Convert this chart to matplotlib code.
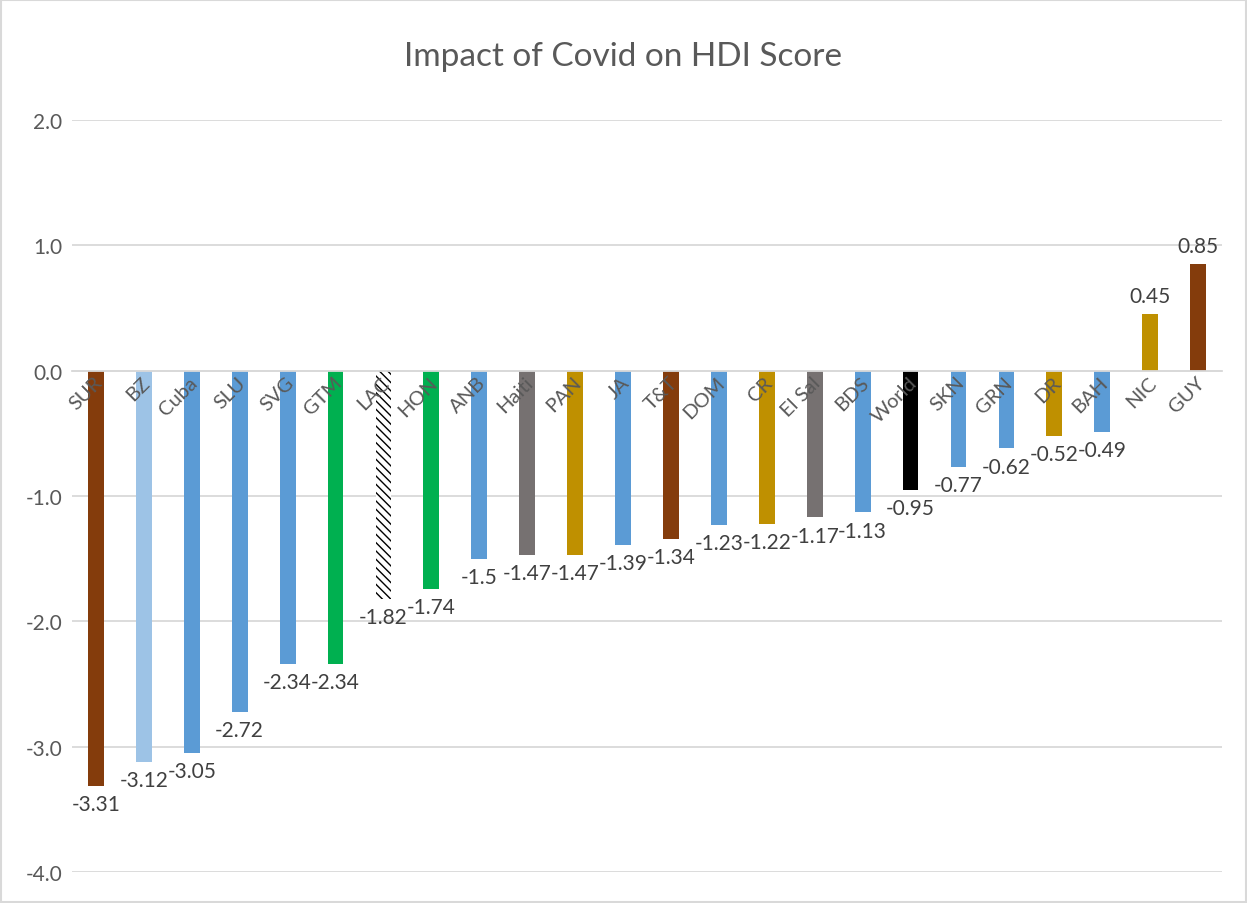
import matplotlib.pyplot as plt
from matplotlib.patches import Rectangle
import numpy as np

plt.rcParams['font.family'] = ['Lato', 'DejaVu Sans']
plt.rcParams['hatch.linewidth'] = 1.0

# datos
paises = ['SUR', 'BZ', 'Cuba', 'SLU', 'SVG', 'GTM', 'LAC', 'HON', 'ANB', 'Haiti',
          'PAN', 'JA', 'T&T', 'DOM', 'CR', 'El Sal', 'BDS', 'World', 'SKN', 'GRN',
          'DR', 'BAH', 'NIC', 'GUY']
valores = [-3.31, -3.12, -3.05, -2.72, -2.34, -2.34, -1.82, -1.74, -1.5, -1.47,
           -1.47, -1.39, -1.34, -1.23, -1.22, -1.17, -1.13, -0.95, -0.77, -0.62,
           -0.52, -0.49, 0.45, 0.85]
colores = ['#843C0C', '#9DC3E6', '#5B9BD5', '#5B9BD5', '#5B9BD5', '#00B050', 'white',
           '#00B050', '#5B9BD5', '#767171', '#BF9000', '#5B9BD5', '#843C0C', '#5B9BD5',
           '#BF9000', '#767171', '#5B9BD5', '#000000', '#5B9BD5', '#5B9BD5', '#BF9000',
           '#5B9BD5', '#BF9000', '#843C0C']
etiquetas = ['-3.31', '-3.12', '-3.05', '-2.72', '-2.34', '-2.34', '-1.82', '-1.74',
             '-1.5', '-1.47', '-1.47', '-1.39', '-1.34', '-1.23', '-1.22', '-1.17',
             '-1.13', '-0.95', '-0.77', '-0.62', '-0.52', '-0.49', '0.45', '0.85']

fig = plt.figure(figsize=(12.47, 9.04), dpi=100)
ax = fig.add_axes([0.0577, 0.0343, 0.9223, 0.8319])

x = np.arange(len(paises))
barras = ax.bar(x, valores, width=0.33, color=colores, zorder=2)
# LAC con rayado
lac = barras[paises.index('LAC')]
lac.set_hatch('\\\\\\\\')
lac.set_edgecolor('black')
lac.set_linewidth(0)

for xi, v, t in zip(x, valores, etiquetas):
    off = 6 if v > 0 else -6
    ax.annotate(t, (xi, v), xytext=(0, off), textcoords='offset points',
                ha='center', va='bottom' if v > 0 else 'top',
                fontsize=15, color='#404040', zorder=5)

# nombres de categoria encima de las barras
for xi, p in zip(x, paises):
    ax.annotate(p, (xi, 0), xytext=(-2, -2), textcoords='offset points',
                rotation=45, ha='right', va='top', rotation_mode='anchor',
                fontsize=14.5, color='#595959', zorder=5)

ax.set_xlim(-0.5, len(paises) - 0.5)
ax.set_ylim(-4, 2)
ax.set_yticks(np.arange(-4, 2.1, 1))
ax.set_yticklabels([f'{t:.1f}' for t in np.arange(-4, 2.1, 1)])
ax.yaxis.grid(True, color='#D9D9D9', linewidth=1.3, zorder=0)
ax.set_axisbelow(True)

for s in ['top', 'right', 'left']:
    ax.spines[s].set_visible(False)
ax.spines['bottom'].set_position(('data', 0))
ax.spines['bottom'].set_color('#D9D9D9')
ax.spines['bottom'].set_linewidth(1.3)

ax.set_xticks([])
ax.tick_params(axis='y', length=0, pad=7, labelsize=15, labelcolor='#595959')

fig.text(0.5, 0.937, 'Impact of Covid on HDI Score', ha='center', va='center',
         fontsize=24, color='#595959')

fig.patches.append(Rectangle((0.001, 0.001), 0.998, 0.998, transform=fig.transFigure,
                             fill=False, edgecolor='#D9D9D9', linewidth=1.5))

fig.savefig('out.png', dpi=100, facecolor='white')
